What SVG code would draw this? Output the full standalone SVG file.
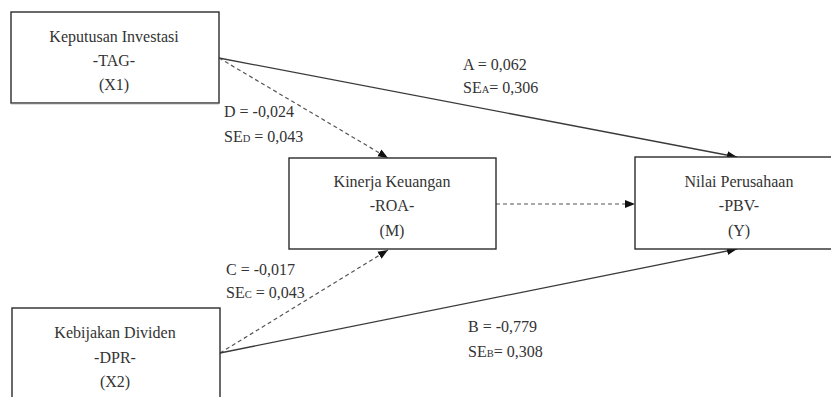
<svg xmlns="http://www.w3.org/2000/svg" width="831" height="397" viewBox="0 0 831 397">
  <style>
    .box { fill: #ffffff; stroke: #2b2b2b; stroke-width: 1.4; }
    .lbl { font-family: 'Liberation Serif', 'DejaVu Serif', serif; font-size: 16px; fill: #333333; }
    .mid { text-anchor: middle; }
    .sub { font-size: 10.5px; }
    .solid { fill: none; stroke: #3a3a3a; stroke-width: 1.3; }
    .dash { fill: none; stroke: #555555; stroke-width: 1.2; stroke-dasharray: 4 3; }
  </style>
  <defs>
    <marker id="arrow" markerUnits="userSpaceOnUse" markerWidth="10" markerHeight="10" viewBox="0 0 10 10" refX="10" refY="5" orient="auto">
      <path d="M0,1 L10,5 L0,9 Z" fill="#111111"/>
    </marker>
  </defs>
  <rect width="831" height="397" fill="#ffffff"/>

  <g id="connectors">
    <line class="solid" x1="219" y1="58" x2="737" y2="157" marker-end="url(#arrow)"/>
    <line class="dash" x1="219" y1="58" x2="388" y2="158" marker-end="url(#arrow)"/>
    <line class="dash" x1="496" y1="204" x2="635" y2="204" marker-end="url(#arrow)"/>
    <line class="dash" x1="220" y1="353" x2="388" y2="250" marker-end="url(#arrow)"/>
    <line class="solid" x1="220" y1="353" x2="737" y2="249" marker-end="url(#arrow)"/>
  </g>

  <g id="x1">
    <rect class="box" x="11" y="12" width="208" height="91"/>
    <line x1="11" y1="103.5" x2="219" y2="103.5" stroke="#777777" stroke-width="1.6"/>
    <text class="lbl mid" x="114" y="42">Keputusan Investasi</text>
    <text class="lbl mid" x="114" y="66">-TAG-</text>
    <text class="lbl mid" x="114" y="90">(X1)</text>
  </g>

  <g id="m">
    <rect class="box" x="289" y="158" width="207" height="91"/>
    <text class="lbl mid" x="392" y="187">Kinerja Keuangan</text>
    <text class="lbl mid" x="392" y="211">-ROA-</text>
    <text class="lbl mid" x="392" y="236">(M)</text>
  </g>

  <g id="y">
    <rect class="box" x="635" y="157" width="210" height="92"/>
    <text class="lbl mid" x="739" y="187">Nilai Perusahaan</text>
    <text class="lbl mid" x="739" y="211">-PBV-</text>
    <text class="lbl mid" x="739" y="236">(Y)</text>
  </g>

  <g id="x2">
    <rect class="box" x="12" y="308" width="208" height="100"/>
    <text class="lbl mid" x="115" y="338">Kebijakan Dividen</text>
    <text class="lbl mid" x="115" y="363">-DPR-</text>
    <text class="lbl mid" x="115" y="387">(X2)</text>
  </g>

  <g id="labels">
    <text class="lbl" x="463" y="70">A = 0,062</text>
    <text class="lbl" x="463" y="93">SE<tspan class="sub">A</tspan>= 0,306</text>
    <text class="lbl" x="224" y="117">D = -0,024</text>
    <text class="lbl" x="224" y="142">SE<tspan class="sub">D</tspan> = 0,043</text>
    <text class="lbl" x="226" y="275">C = -0,017</text>
    <text class="lbl" x="226" y="298">SE<tspan class="sub">C</tspan> = 0,043</text>
    <text class="lbl" x="468" y="332">B = -0,779</text>
    <text class="lbl" x="468" y="357">SE<tspan class="sub">B</tspan>= 0,308</text>
  </g>
</svg>
